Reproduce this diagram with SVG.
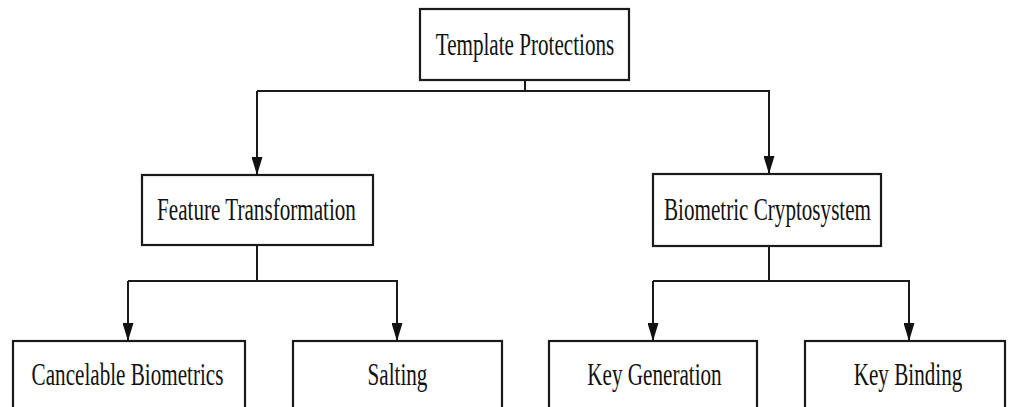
<svg xmlns="http://www.w3.org/2000/svg" width="1011" height="407" viewBox="0 0 1011 407">
  <style>
    .box { fill: #ffffff; stroke: #1a1a1a; stroke-width: 2.2; }
    .lbl { font-family: "Liberation Serif", "Times New Roman", serif; font-size: 32px; fill: #111111; text-anchor: middle; }
    .wire { fill: none; stroke: #1a1a1a; stroke-width: 2; }
  </style>
  <defs>
    <!-- filled triangular head, 18 long and 11 wide, tip on the end point -->
    <marker id="arrow" viewBox="0 0 18 11" refX="18" refY="5.5" markerUnits="userSpaceOnUse" markerWidth="18" markerHeight="11" orient="auto">
      <path d="M0,0 L18,5.5 L0,11 Z" fill="#111111"/>
    </marker>
  </defs>
  <rect width="1011" height="407" fill="#ffffff"/>

  <g id="connectors">
    <!-- root to second level -->
    <path class="wire" d="M525,80 V91"/>
    <path class="wire" d="M257,91 H770"/>
    <path class="wire" d="M257,91 V175" marker-end="url(#arrow)"/>
    <path class="wire" d="M769,91 V174" marker-end="url(#arrow)"/>
    <!-- Feature Transformation children -->
    <path class="wire" d="M257,245 V281"/>
    <path class="wire" d="M128,281 H398"/>
    <path class="wire" d="M128,281 V341" marker-end="url(#arrow)"/>
    <path class="wire" d="M397,281 V341" marker-end="url(#arrow)"/>
    <!-- Biometric Cryptosystem children -->
    <path class="wire" d="M769,246 V281"/>
    <path class="wire" d="M653,281 H910"/>
    <path class="wire" d="M653,281 V341" marker-end="url(#arrow)"/>
    <path class="wire" d="M909,281 V341" marker-end="url(#arrow)"/>
  </g>

  <!-- labels use a condensed serif: horizontal scale 0.66 about each label centre -->
  <g id="template-protections">
    <rect class="box" x="420" y="9" width="209" height="71"/>
    <text class="lbl" transform="translate(525,55) scale(0.66,1)">Template Protections</text>
  </g>

  <g id="feature-transformation">
    <rect class="box" x="142" y="175" width="231" height="70"/>
    <text class="lbl" transform="translate(256.5,220) scale(0.66,1)">Feature Transformation</text>
  </g>

  <g id="biometric-cryptosystem">
    <rect class="box" x="653" y="174" width="228" height="72"/>
    <text class="lbl" transform="translate(767.5,220) scale(0.66,1)">Biometric Cryptosystem</text>
  </g>

  <g id="cancelable-biometrics">
    <rect class="box" x="13" y="341" width="232" height="80"/>
    <text class="lbl" transform="translate(127.5,385) scale(0.66,1)">Cancelable Biometrics</text>
  </g>

  <g id="salting">
    <rect class="box" x="293" y="341" width="209" height="80"/>
    <text class="lbl" transform="translate(397.5,385) scale(0.66,1)">Salting</text>
  </g>

  <g id="key-generation">
    <rect class="box" x="549" y="341" width="208" height="80"/>
    <text class="lbl" transform="translate(654.5,385) scale(0.66,1)">Key Generation</text>
  </g>

  <g id="key-binding">
    <rect class="box" x="805" y="341" width="200" height="80"/>
    <text class="lbl" transform="translate(908,385) scale(0.66,1)">Key Binding</text>
  </g>
</svg>
